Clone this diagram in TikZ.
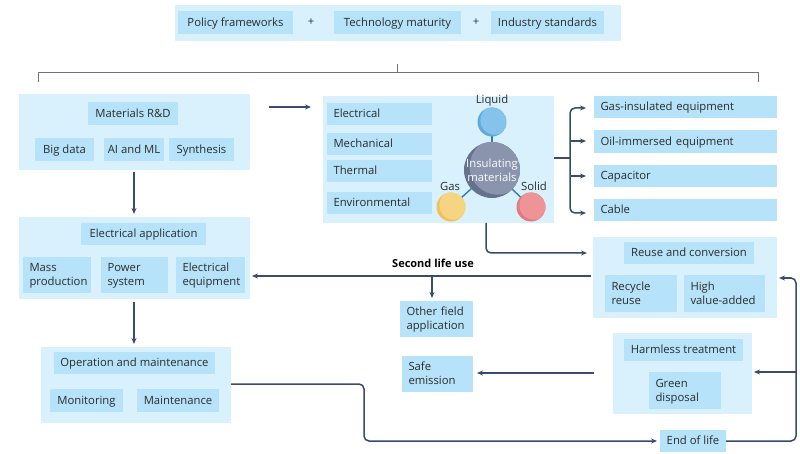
\documentclass[tikz,border=0pt]{standalone}
\usepackage{fontspec}
\setmainfont{Open Sans}
\usetikzlibrary{arrows.meta,calc}
\definecolor{panelc}{HTML}{D9F1FD}
\definecolor{boxc}{HTML}{B6E3F9}
\definecolor{linec}{HTML}{3A4B6E}
\definecolor{inkc}{HTML}{2B2B2B}
\definecolor{liqd}{HTML}{5FA9DC}\definecolor{liql}{HTML}{86C3EC}
\definecolor{gasd}{HTML}{F0C25E}\definecolor{gasl}{HTML}{F6D582}
\definecolor{sold}{HTML}{DF7C7F}\definecolor{soll}{HTML}{EE9497}
\definecolor{insd}{HTML}{66718D}\definecolor{insl}{HTML}{8B94AD}
\definecolor{stemc}{HTML}{2E7DB5}
\tikzset{
  x=1pt,y=-1pt,
  panel/.style={fill=panelc,draw=none,inner sep=0},
  cbox/.style={fill=boxc,draw=none,inner sep=0,text=inkc,font=\fontsize{11.3}{14}\selectfont,align=center},
  lbox/.style={cbox,align=left},
  conn/.style={draw=linec,line width=1.5pt,rounded corners=5pt},
  arr/.style={conn,-{Stealth[length=6pt,width=5pt]}},
  brk/.style={draw=black!55,line width=.7pt},
  plain/.style={text=inkc,font=\fontsize{11.3}{14}\selectfont,inner sep=0},
  ball/.style={circle,inner sep=0,draw=none},
  stem/.style={draw=stemc,line width=1.4pt},
}
\newcommand{\topst}{\rule{0pt}{10pt}}
\newcommand{\botst}{\rule[-2.7pt]{0pt}{2.7pt}}
\newcommand{\pbox}[7]{\node[#6,minimum width=#4pt-#2pt,minimum height=#5pt-#3pt] (#1) at ({(#2+#4)/2},{(#3+#5)/2}) {\topst #7\botst};}
\newcommand{\lpbox}[6]{\node[lbox,text width=#4pt-#2pt-13pt,minimum height=#5pt-#3pt,inner xsep=6.5pt] (#1) at ({(#2+#4)/2},{(#3+#5)/2}) {\topst #6\botst};}
\newcommand{\shball}[6]{%
  \begin{scope}
    \clip (#2,#3) circle (#4pt);
    \fill[#5] (#2,#3) circle (#4pt);
    \fill[#6] (#2+#4*0.2,#3-#4*0.12) circle (#4pt);
  \end{scope}
  \node[ball,minimum size=2*#4pt] (#1) at (#2,#3) {};}
\begin{document}
\begin{tikzpicture}
\useasboundingbox (0,0) rectangle (800,454);
\fill[white] (0,0) rectangle (800,454);
% top
\pbox{toppanel}{175}{5}{621}{41}{panel}{}
\pbox{policy}{178}{11}{293}{34}{cbox}{Policy frameworks}
\pbox{tech}{334}{11}{461}{34}{cbox}{Technology maturity}
\pbox{indus}{491}{11}{604}{34}{cbox}{Industry standards}
\node[plain] (plusa) at (311,22) {+};
\node[plain] (plusb) at (476,22) {+};
% bracket
\coordinate (brL) at (38,82);
\coordinate (brLt) at (38,72);
\coordinate (brR) at (758,82);
\coordinate (brRt) at (758,72);
\coordinate (brS) at (397,64);
\coordinate (brSb) at (397,72);
\draw[brk] (brL) -- (brLt) -- (brRt) -- (brR);
\draw[brk] (brS) -- (brSb);
% materials
\pbox{matpanel}{19}{94}{250}{170}{panel}{}
\pbox{matrd}{88}{102}{178}{125}{cbox}{Materials R\&D}
\pbox{bigdata}{35}{138}{94}{161}{cbox}{Big data}
\pbox{aiml}{104}{138}{164}{161}{cbox}{AI and ML}
\pbox{synth}{169}{138}{234}{161}{cbox}{Synthesis}
% electrical application
\pbox{elpanel}{19}{217}{250}{299}{panel}{}
\pbox{elapp}{81}{223}{206}{245}{cbox}{Electrical application}
\lpbox{mass}{23}{257}{91}{293}{Mass\\production}
\lpbox{power}{101}{257}{168}{293}{Power\\system}
\lpbox{eleq}{176}{257}{245}{293}{Electrical\\equipment}
% O&M
\pbox{ompanel}{41}{347}{231}{423}{panel}{}
\pbox{om}{54}{352}{215}{374}{cbox}{Operation and maintenance}
\pbox{monit}{50}{389}{123}{412}{cbox}{Monitoring}
\pbox{maint}{137}{389}{219}{412}{cbox}{Maintenance}
% centre
\pbox{cpanel}{323}{96}{554}{223}{panel}{}
\lpbox{electrical}{327}{103}{432}{125}{Electrical}
\lpbox{mech}{327}{133}{432}{155}{Mechanical}
\lpbox{therm}{327}{160}{432}{182}{Thermal}
\lpbox{envir}{327}{192}{432}{214}{Environmental}
\coordinate (liqc) at (492,122);
\coordinate (gasc) at (451,207);
\coordinate (solc) at (531,207);
\coordinate (insc) at (492,170);
\draw[stem] (insc) -- (liqc);
\draw[stem] (insc) -- (gasc);
\draw[stem] (insc) -- (solc);
\shball{liquid}{492}{122}{14.5}{liqd}{liql}
\shball{gas}{451}{207}{14.5}{gasd}{gasl}
\shball{solid}{531}{207}{14.5}{sold}{soll}
\shball{insul}{492}{170}{28}{insd}{insl}
\node[plain,align=center,text=white!90!panelc] (insult) at (492,170) {Insulating\\materials};
\node[plain] (liqt) at (492,101) {Liquid};
\node[plain] (gast) at (450,186) {Gas};
\node[plain] (solt) at (534,186) {Solid};
% equipment
\lpbox{gasins}{594}{96}{777}{118}{Gas-insulated equipment}
\lpbox{oil}{594}{130}{777}{153}{Oil-immersed equipment}
\lpbox{cap}{594}{165}{777}{187}{Capacitor}
\lpbox{cable}{594}{199}{777}{221}{Cable}
% reuse
\pbox{reusepanel}{593}{237}{777}{318}{panel}{}
\pbox{reuse}{624}{242}{754}{264}{cbox}{Reuse and conversion}
\lpbox{recycle}{605}{275}{677}{312}{Recycle\\reuse}
\lpbox{high}{684}{275}{765}{312}{High\\value-added}
% harmless
\pbox{harmpanel}{613}{333}{752}{414}{panel}{}
\pbox{harm}{624}{339}{743}{361}{cbox}{Harmless treatment}
\lpbox{green}{649}{372}{721}{409}{Green\\disposal}
% other boxes
\lpbox{other}{400}{301}{473}{337}{Other field\\application}
\lpbox{safe}{402}{356}{473}{392}{Safe\\emission}
\pbox{eol}{660}{430}{726}{452}{cbox}{End of life}
\node[plain,font=\fontsize{11}{13}\selectfont\bfseries,text=black] (second) at (433,263) {Second life use};
% connectors
\coordinate (trunkIn) at (570,158);
\coordinate (mA) at (269,107);
\coordinate (mB) at (311,107);
\draw[arr] (mA) -- (mB);
\draw[arr] (matpanel.south -| 134,0) ++(0,2) -- (134,214);
\draw[arr] (134,302) -- (134,344);
\draw[conn,rounded corners=0] (cpanel.east |- trunkIn) -- (trunkIn);
\draw[arr] (trunkIn) -- (570,108) -- (586,108);
\draw[arr,rounded corners=0] (570,141) -- (586,141);
\draw[arr,rounded corners=0] (570,176) -- (586,176);
\draw[arr] (trunkIn) -- (570,213) -- (586,213);
\draw[arr] (486,223) -- (486,253) -- (587,253);
\draw[arr] (591,276) -- (252,276);
\draw[arr] (432,276) -- (432,298);
\draw[arr] (594,373) -- (477,373);
\draw[arr] (ompanel.east |- 0,384) -- (364,384) -- (364,441) -- (657,441);
\draw[arr] (eol.east) -- (796,441) -- (796,278) -- (779,278);
\draw[arr,rounded corners=0] (796,372) -- (754,372);
\end{tikzpicture}
\end{document}
